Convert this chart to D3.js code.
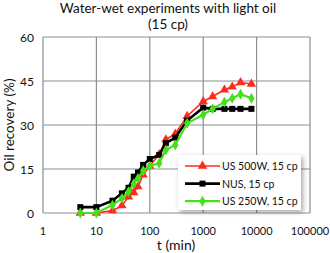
<!DOCTYPE html>
<html><head><meta charset="utf-8">
<script src="https://cdn.jsdelivr.net/npm/d3@7"></script>
<style>body{margin:0;background:#fff}svg{display:block}text{font-family:Lato,"Open Sans",sans-serif;fill:#111}</style>
</head><body><svg id="c" width="330" height="253"></svg>
<script>
const times = [5,10,20,30,40,50,60,75,100,150,200,300,500,1000,1500,2500,3500,5000,8000];
const us500 = [0,0,0.8,2.5,5.5,7,9,13,16,20,25,27,33,38,39.7,42,43,44.5,44];
const nus = [2,2,4.2,6.7,8.6,12.4,13.8,16.4,18.4,19.8,23.8,25.7,31.5,35.9,35.5,35.5,35.5,35.5,35.5];
const us250 = [0,0,2.7,5,7.3,10,11.8,14.4,16,17,21.5,23.2,30.6,33.5,35.5,37.8,39.1,40.5,39.1];
const seriesNames = ["US 500W, 15 cp","NUS, 15 cp","US 250W, 15 cp"];
const xTicks = [1,10,100,1000,10000,100000];
const yTicks = [0,15,30,45,60];

const svg = d3.select("#c");
const x = d3.scaleLog().domain([1,100000]).range([43,310]);
const y = d3.scaleLinear().domain([0,60]).range([213,37]);

svg.append("g").selectAll("line").data(yTicks).join("line")
  .attr("x1",43).attr("x2",310).attr("y1",d=>y(d)).attr("y2",d=>y(d))
  .attr("stroke","#8a8f93").attr("stroke-width",1.2);
svg.append("g").selectAll("line").data(xTicks).join("line")
  .attr("x1",d=>x(d)).attr("x2",d=>x(d)).attr("y1",y(60)).attr("y2",y(0))
  .attr("stroke","#8a8f93").attr("stroke-width",1.2);

svg.append("g").selectAll("text").data(yTicks).join("text")
  .attr("x",34).attr("y",d=>y(d)+4.5).attr("text-anchor","end").attr("font-size",12).text(d=>d);
svg.append("g").selectAll("text").data(xTicks).join("text")
  .attr("x",d=>x(d)).attr("y",234.5).attr("text-anchor","middle").attr("font-size",11).text(d=>d);

svg.append("text").attr("x",176).attr("y",250).attr("text-anchor","middle").attr("font-size",14).text("t (min)");
svg.append("text").attr("transform","translate(14,125) rotate(-90)").attr("text-anchor","middle").attr("font-size",13.5).text("Oil recovery (%)");
svg.append("text").attr("x",168).attr("y",13).attr("text-anchor","middle").attr("font-size",13.5).text("Water-wet experiments with light oil");
svg.append("text").attr("x",168).attr("y",29).attr("text-anchor","middle").attr("font-size",13.5).text("(15 cp)");

const series = [
  {name:seriesNames[0], vals:us500, color:"#ff2a1f", w:1.6, sym:d3.symbolTriangle, size:38},
  {name:seriesNames[1], vals:nus, color:"#000000", w:2.6, sym:d3.symbolSquare, size:36},
  {name:seriesNames[2], vals:us250, color:"#44e01c", w:2.2, sym:d3.symbolDiamond, size:34}
];
const line = d3.line().x(d=>x(d[0])).y(d=>y(d[1]));
series.forEach(s=>{
  const pts = times.map((t,i)=>[t,s.vals[i]]);
  svg.append("path").attr("d",line(pts)).attr("fill","none").attr("stroke",s.color).attr("stroke-width",s.w);
  svg.append("g").selectAll("path").data(pts).join("path")
    .attr("transform",d=>`translate(${x(d[0])},${y(d[1])})`)
    .attr("d",d3.symbol().type(s.sym).size(s.size)).attr("fill",s.color);
});

const defs = svg.append("defs");
const f = defs.append("filter").attr("id","sh").attr("x","-20%").attr("y","-20%").attr("width","150%").attr("height","150%");
f.append("feDropShadow").attr("dx",2).attr("dy",2).attr("stdDeviation",2.5).attr("flood-color","#000").attr("flood-opacity",0.35);
const lg = svg.append("g");
lg.append("rect").attr("x",178).attr("y",155).attr("width",123).attr("height",55).attr("fill","#fff").attr("filter","url(#sh)");
series.forEach((s,i)=>{
  const yy = 166+i*17.6;
  lg.append("line").attr("x1",185).attr("x2",220).attr("y1",yy).attr("y2",yy).attr("stroke",s.color).attr("stroke-width",s.w);
  lg.append("path").attr("transform",`translate(202.5,${yy})`).attr("d",d3.symbol().type(s.sym).size(s.size)).attr("fill",s.color);
  lg.append("text").attr("x",222).attr("y",yy+4).attr("font-size",10.5).text(s.name);
});
</script></body></html>
